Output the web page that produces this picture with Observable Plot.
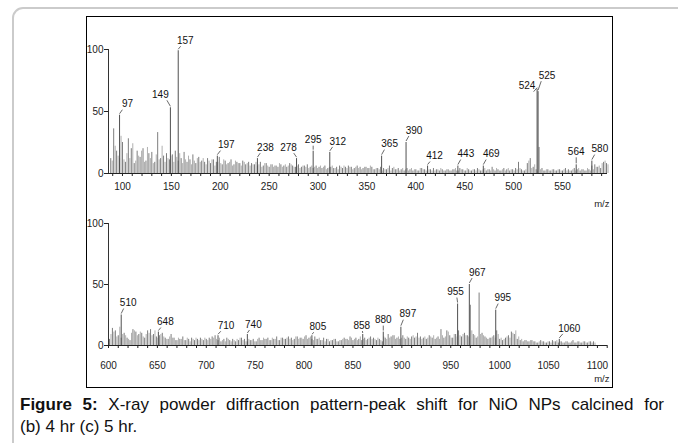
<!DOCTYPE html>
<html><head><meta charset="utf-8">
<script src="https://cdn.jsdelivr.net/npm/d3@7"></script>
<script src="https://cdn.jsdelivr.net/npm/@observablehq/plot@0.6"></script>
<style>
body{margin:0;background:#fff;width:678px;height:443px;overflow:hidden;position:relative;font-family:"Liberation Sans",Arial,sans-serif;}
#card{position:absolute;left:12px;top:7px;width:720px;height:520px;border:2px solid #cbcbcb;border-radius:11px;box-sizing:border-box;}
#box{position:absolute;left:86px;top:16px;width:527px;height:372px;border:1.5px solid #000;box-sizing:border-box;}
#top,#bot{position:absolute;left:88px;}
#top{top:18px}
#bot{top:213px}
#cap{position:absolute;left:20px;top:394px;width:644px;font-size:17px;line-height:22px;color:#111}
#cap .l1{text-align:justify;text-align-last:justify;white-space:nowrap;}
</style></head>
<body>
<div id="card"></div>
<div id="box"></div>
<div id="top"></div>
<div id="bot"></div>
<div id="cap"><div class="l1"><b>Figure 5:</b> X-ray powder diffraction pattern-peak shift for NiO NPs calcined for</div><div>(b) 4 hr (c) 5 hr.</div></div>
<script>
// ---------- top panel (m/z 88 - 595) ----------
const topNoiseMz = [
88,91,94,97,100,103,106,109,112,115,
118,121,124,127,130,133,136,139,142,145,
148,151,154,157,160,163,166,169,172,175,
178,181,184,187,190,193,196,199,202,205,
208,211,214,217,220,223,226,229,232,235,
238,241,244,247,250,253,256,259,262,265,
268,271,274,277,280,283,286,289,292,295,
298,301,304,307,310,313,316,319,322,325,
328,331,334,337,340,343,346,349,352,355,
358,361,364,367,370,373,376,379,382,385,
388,391,394,397,400,403,406,409,412,415,
418,421,424,427,430,433,436,439,442,445,
448,451,454,457,460,463,466,469,472,475,
478,481,484,487,490,493,496,499,502,505,
508,511,514,517,520,523,526,529,532,535,
538,541,544,547,550,553,556,559,562,565,
568,571,574,577,580,583,586,589,592,595];
const topNoise = [
12,36,18,12,25,9,28,20,8,18,
13,20,10,16,17,9,33,12,14,16,
11,15,18,10,12,17,9,11,15,8,
13,10,9,12,8,11,9,13,7,10,
8,11,7,9,8,10,7,9,8,7,
6,9,6,8,5,7,6,5,7,6,
5,8,6,5,7,5,6,7,5,4,
6,5,4,6,4,5,4,5,6,4,
5,6,5,4,6,5,4,5,4,5,
3,4,5,4,3,6,4,3,4,3,
2,4,3,2,3,2,4,3,2,3,
4,3,2,3,2,3,2,3,2,4,
3,2,3,2,3,4,2,3,2,3,
5,2,3,2,4,3,2,3,4,9,
3,2,8,12,5,3,21,4,2,3,
2,3,2,3,2,4,3,2,4,3,
2,3,2,3,6,7,5,4,9,8];
// lighter bars lying between the ones above
const topNoise2 = [
10,22,14,30,11,16,12,24,10,14,
18,9,21,12,8,15,11,22,9,12,
14,9,13,16,8,11,14,7,10,12,
9,12,7,10,11,6,9,8,11,7,
9,6,10,8,6,9,8,6,7,9,
7,5,8,6,7,5,6,8,5,7,
6,7,5,6,4,6,5,4,6,5,
4,6,5,3,5,6,4,3,5,6,
4,5,3,5,4,3,5,4,6,3,
4,3,2,3,4,2,5,3,2,4,
3,2,4,3,2,4,3,2,3,2,
2,3,4,2,3,2,3,4,2,3,
2,4,2,3,2,3,2,4,3,2,
3,4,2,3,2,4,3,2,3,4,
2,3,10,4,7,2,3,2,3,2,
3,2,3,2,3,2,2,3,2,4,
3,2,4,2,3,5,6,8,10,7];
const topPeakMz    = [97,149,157,197,238,278,295,312,365,390,412,443,469,524,525,564,580];
const topPeakVal   = [47,53,99,14,12,12,18,17,14,25,6,6,6,68,66,7,10];
const topPeakLabel = ["97","149","157","197","238","278","295","312","365","390","412","443","469","524","525","564","580"];
const topTickLabels = [100,150,200,250,300,350,400,450,500,550];

// ---------- bottom panel (m/z 601 - 1096) ----------
const botNoiseMz = [
601,604,607,610,613,616,619,622,625,628,
631,634,637,640,643,646,649,652,655,658,
661,664,667,670,673,676,679,682,685,688,
691,694,697,700,703,706,709,712,715,718,
721,724,727,730,733,736,739,742,745,748,
751,754,757,760,763,766,769,772,775,778,
781,784,787,790,793,796,799,802,805,808,
811,814,817,820,823,826,829,832,835,838,
841,844,847,850,853,856,859,862,865,868,
871,874,877,880,883,886,889,892,895,898,
901,904,907,910,913,916,919,922,925,928,
931,934,937,940,943,946,949,952,955,958,
961,964,967,970,973,976,979,982,985,988,
991,994,997,1000,1003,1006,1009,1012,1015,1018,
1021,1024,1027,1030,1033,1036,1039,1042,1045,1048,
1051,1054,1057,1060,1063,1066,1069,1072,1075,1078,
1081,1084,1087,1090,1093,1096];
const botNoise = [
5,14,12,8,6,10,6,4,13,11,
9,10,6,12,13,9,7,8,10,6,
5,9,6,4,5,7,4,5,6,4,
5,6,4,5,6,7,8,4,3,5,
6,4,5,3,4,6,5,3,4,5,
3,6,4,5,6,4,5,7,4,6,
5,7,6,5,7,6,5,8,6,5,
7,5,4,6,5,3,4,5,3,4,
6,5,7,4,6,5,4,6,5,7,
6,4,5,3,6,9,7,8,6,5,
8,5,6,7,6,10,7,6,5,8,
6,5,7,13,6,12,8,6,9,12,
7,10,8,33,9,6,43,10,7,5,
6,8,12,5,4,6,8,11,9,5,
4,3,4,3,4,3,2,4,3,2,
3,4,3,2,3,2,3,2,4,2,
3,2,3,2,3,3];
const botNoise2 = [
9,11,7,15,9,8,5,10,12,8,
11,7,9,10,8,12,6,9,7,5,
7,6,4,6,5,4,6,3,5,6,
4,5,6,4,5,6,5,6,4,3,
5,3,4,5,6,4,3,5,4,3,
5,4,6,5,4,6,5,4,6,5,
6,5,4,7,5,6,7,5,7,4,
5,6,4,3,5,4,5,3,4,5,
5,4,6,5,4,7,5,4,6,5,
5,6,4,7,5,6,8,5,7,6,
6,7,5,8,7,6,5,7,6,7,
8,6,5,8,7,11,6,9,7,8,
9,8,7,12,8,7,9,8,6,6,
7,6,9,6,5,7,6,10,12,7,
5,4,3,4,3,2,3,3,2,3,
2,3,4,3,2,3,2,3,2,3,
2,3,2,3,2,2];
const botPeakMz    = [613,651,712,742,808,860,881,899,957,969,996,1061];
const botPeakVal   = [25,11,8,9,8,9,11,15,34,50,29,5];
const botPeakLabel = ["510","648","710","740","805","858","880","897","955","967","995","1060"];
const botTickLabels = [600,650,700,750,800,850,900,950,1000,1050,1100];

const yTicks = [0,50,100];

// label offsets (pixels from the peak top), styling only
const topOffsets = [[8,-11],[-10,-13],[7,-10],[9,-11],[8,-11],[-8,-11],[0,-11],[8,-11],[8,-12],[8,-12],[7,-10],[8,-12],[8,-12],[-10,-3],[9,-16],[0,-13],[8,-12]];
const botOffsets = [[7,-12],[7,-10],[8,-10],[6,-10],[6,-9],[-1,-9],[0,-12],[7,-13],[-2,-12],[8,-12],[7,-12],[10,-11]];

function panel(el, cfg) {
  const {noiseMz, noise, noise2, peakMz, peakVal, peakLabel, offsets, domain, tickLabels,
         height, mt, mb, tickPad, mzDy} = cfg;
  const width = 525, ml = 20, mr = 6;
  const kx = (width - ml - mr) / (domain[1] - domain[0]);
  const ky = (height - mt - mb) / 100;
  const noiseData = noiseMz.map((m, i) => ({mz: m, v: noise[i]}));
  const noiseData2 = noiseMz.map((m, i) => ({mz: m, v: noise2[i]}));
  const peaks = peakMz.map((m, i) => {
    const [dx, dy] = offsets[i];
    return {
      mz: m, v: peakVal[i], label: peakLabel[i],
      tx: m + dx / kx, ty: peakVal[i] - dy / ky,
      lx1: m, ly1: peakVal[i] + 1.5 / ky,
      lx2: m + dx * 0.35 / kx, ly2: peakVal[i] - (dy + 5.5) / ky
    };
  });
  const minor = d3.range(Math.ceil(domain[0] / 10) * 10, domain[1], 10);
  const chart = Plot.plot({
    width, height,
    marginLeft: ml, marginRight: mr, marginTop: mt, marginBottom: mb,
    style: {fontFamily: "'Liberation Sans', Arial, sans-serif", fontSize: "10px", color: "#222", background: "transparent", overflow: "visible"},
    x: {domain, ticks: minor, tickSize: 3, tickPadding: tickPad,
        tickFormat: d => tickLabels.includes(d) ? String(d) : "", label: null},
    y: {domain: [0, 100], ticks: yTicks, tickSize: 4, tickPadding: 1, label: null},
    marks: [
      Plot.ruleX(noiseData2, {x: "mz", y1: 0, y2: "v", dx: 1.5, stroke: "#b0b0b0", strokeWidth: 1}),
      Plot.ruleX(noiseData, {x: "mz", y1: 0, y2: "v", stroke: "#7e7e7e", strokeWidth: 1}),
      Plot.ruleX(peaks, {x: "mz", y1: 0, y2: "v", stroke: "#505050", strokeWidth: 1}),
      Plot.ruleY([0], {stroke: "#222", strokeWidth: 1}),
      Plot.ruleX([domain[0]], {y1: 0, y2: 100, stroke: "#333", strokeWidth: 1}),
      Plot.link(peaks, {x1: "lx1", y1: "ly1", x2: "lx2", y2: "ly2", stroke: "#444", strokeWidth: 0.8}),
      Plot.text(peaks, {x: "tx", y: "ty", text: "label", fill: "#111", fontSize: 10}),
      Plot.text(["m/z"], {frameAnchor: "bottom-right", dx: 2, dy: mzDy, textAnchor: "end", fontSize: 9.5, fill: "#222"})
    ]
  });
  document.getElementById(el).appendChild(chart);
}

panel("top", {noiseMz: topNoiseMz, noise: topNoise, noise2: topNoise2, peakMz: topPeakMz, peakVal: topPeakVal,
  peakLabel: topPeakLabel, offsets: topOffsets, domain: [85.7, 596], tickLabels: topTickLabels,
  height: 195, mt: 31, mb: 40, tickPad: 6, mzDy: 33});
panel("bot", {noiseMz: botNoiseMz, noise: botNoise, noise2: botNoise2, peakMz: botPeakMz, peakVal: botPeakVal,
  peakLabel: botPeakLabel, offsets: botOffsets, domain: [600, 1110.3], tickLabels: botTickLabels,
  height: 172, mt: 10, mb: 40, tickPad: 13, mzDy: 36});
</script>
</body></html>
